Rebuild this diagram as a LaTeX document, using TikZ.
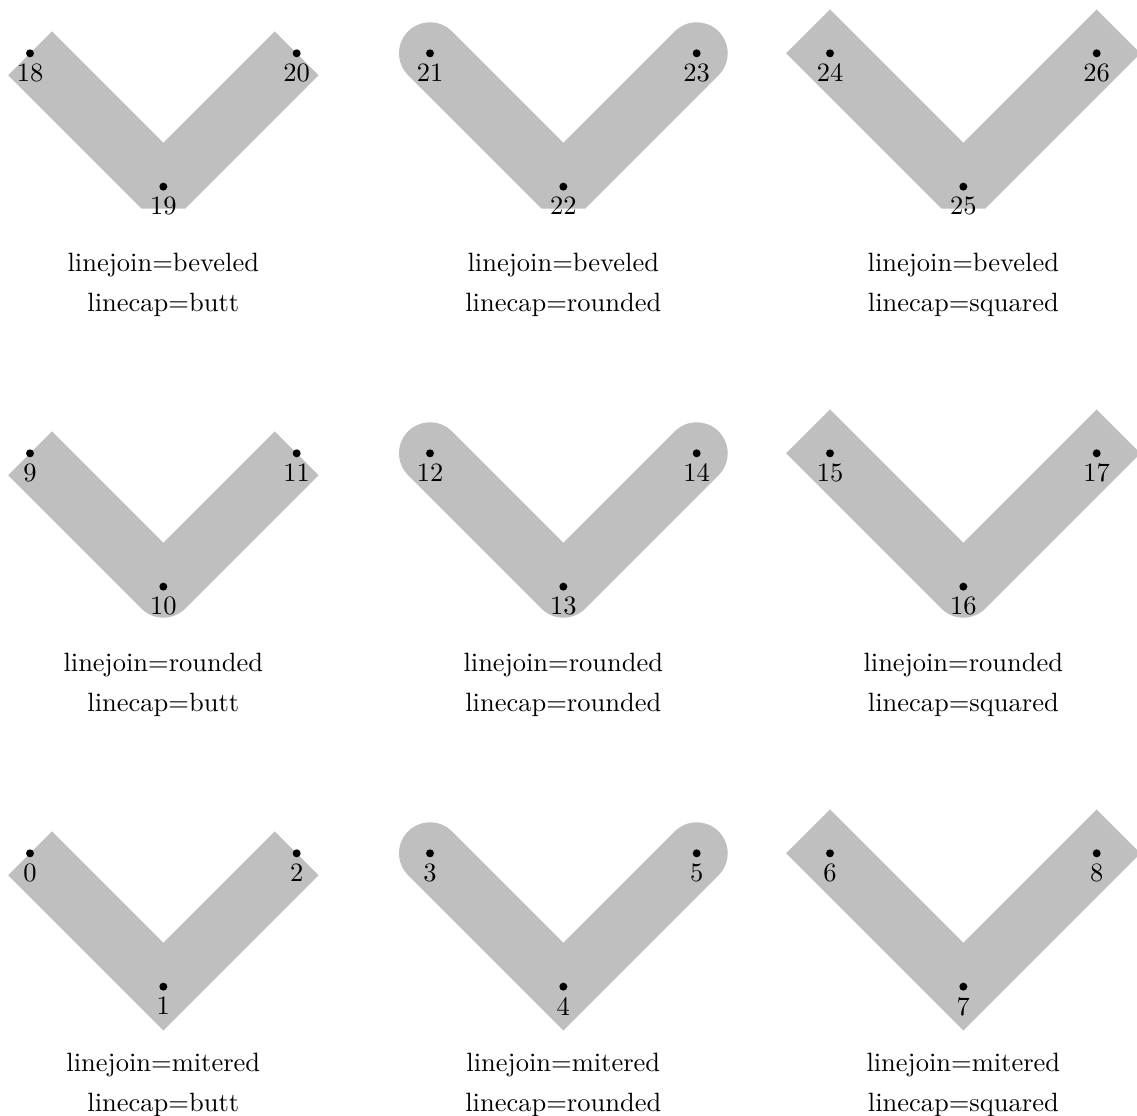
\documentclass[tikz,border=0pt]{standalone}
\usetikzlibrary{positioning}

\definecolor{midgray}{gray}{0.75}

\begin{document}
\begin{tikzpicture}[
    x=50.32pt, y=50.32pt,
    band/.style={draw=midgray, line width=23.4pt},
    vertex/.style={circle, fill=black, inner sep=0pt, minimum size=3pt},
    num/.style={below, inner sep=3.8pt},
    note/.style={anchor=base},
]
\useasboundingbox (-0.225,-1.970) rectangle (8.3025,6.4);

\foreach \row/\jname/\join in {0/mitered/miter, 1/rounded/round, 2/beveled/bevel} {
  \foreach \col/\cname/\cap in {0/butt/butt, 1/rounded/round, 2/squared/rect} {
    \pgfmathtruncatemacro{\na}{9*\row+3*\col}
    \pgfmathtruncatemacro{\nb}{\na+1}
    \pgfmathtruncatemacro{\nc}{\na+2}
    \coordinate (p\na) at (3*\col, 3*\row);
    \coordinate (p\nb) at (3*\col+1, 3*\row-1);
    \coordinate (p\nc) at (3*\col+2, 3*\row);

    \draw[band, line join=\join, line cap=\cap] (p\na) -- (p\nb) -- (p\nc);

    \foreach \n in {\na,\nb,\nc} {
      \node[vertex] (d\n) at (p\n) {};
      \node[num] (l\n) at (p\n) {\n};
    }

    \node[note] (j\row\col) at (3*\col+1, 3*\row-1.638) {linejoin=\jname};
    \node[note] (c\row\col) at (3*\col+1, 3*\row-1.938) {linecap=\cname};
  }
}

\end{tikzpicture}
\end{document}
